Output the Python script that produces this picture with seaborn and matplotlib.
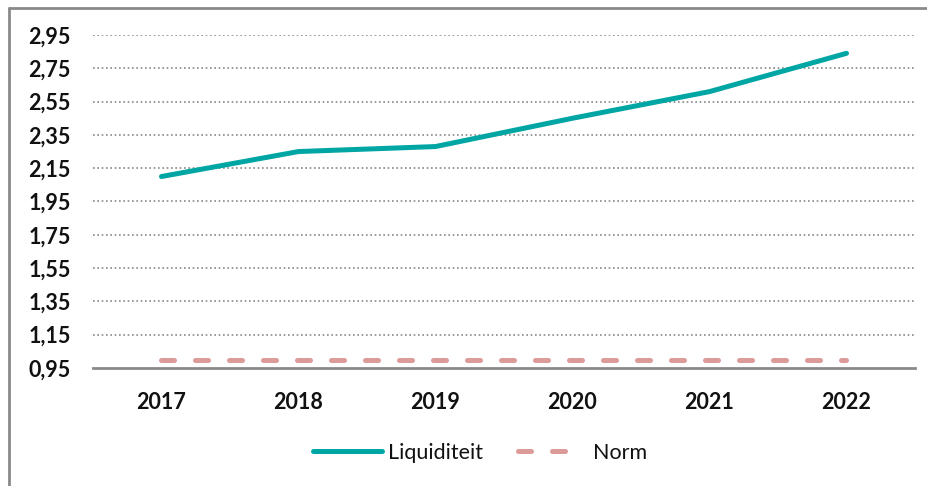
import matplotlib
matplotlib.use("Agg")
import matplotlib.pyplot as plt
import seaborn as sns
import pandas as pd
from matplotlib.lines import Line2D

years = ["2017", "2018", "2019", "2020", "2021", "2022"]
liquiditeit = [2.10, 2.25, 2.28, 2.45, 2.61, 2.84]
norm = [1.0, 1.0, 1.0, 1.0, 1.0, 1.0]
y_ticks = [0.95, 1.15, 1.35, 1.55, 1.75, 1.95, 2.15, 2.35, 2.55, 2.75, 2.95]

sns.set_theme(style="white")
plt.rcParams['font.family'] = ['Lato', 'DejaVu Sans']

df = pd.DataFrame({"Jaar": years, "Liquiditeit": liquiditeit, "Norm": norm})

fig = plt.figure(figsize=(9.28, 4.86), dpi=100)
ax = fig.add_axes([93/928, 1-368/486, (915-93)/928, 333/486])

teal = "#00A6A4"
pink = "#DC9A98"

sns.lineplot(data=df, x="Jaar", y="Liquiditeit", ax=ax, color=teal, lw=3.6,
             solid_capstyle="round", sort=False, legend=False)
sns.lineplot(data=df, x="Jaar", y="Norm", ax=ax, color=pink, lw=3.6,
             dashes=False, sort=False, legend=False)
norm_line = ax.lines[-1]
norm_line.set_linestyle((0, (2.6, 4.2)))
norm_line.set_dash_capstyle("round")

ax.set_xlim(-0.5, 5.5)
ax.set_ylim(0.95, 2.95)
ax.set_yticks(y_ticks)
ax.set_yticklabels([f"{v:.2f}".replace(".", ",") for v in y_ticks],
                   fontsize=15.5, fontweight="bold", color="#111111")
ax.set_xticks(range(len(years)))
ax.set_xticklabels(years, fontsize=15.5, fontweight="bold", color="#111111")
ax.tick_params(axis="y", length=0, pad=16)
ax.tick_params(axis="x", length=0, pad=17)
ax.set_xlabel("")
ax.set_ylabel("")

for v in y_ticks[1:]:
    ax.axhline(v, color="#888888", lw=1.2, ls=(0, (1, 1.6)), zorder=0)

for s in ["top", "right", "left"]:
    ax.spines[s].set_visible(False)
ax.spines["bottom"].set_color("#8a8a8a")
ax.spines["bottom"].set_linewidth(2)

handles = [
    Line2D([0], [0], color=teal, lw=3.6, solid_capstyle="round"),
    Line2D([0], [0], color=pink, lw=3.6, ls=(0, (2.6, 4.2, 2.6, 12)),
           dash_capstyle="round"),
]
leg = fig.legend(handles, ["Liquiditeit", "Norm"], loc="center",
                 bbox_to_anchor=(480/928, 1-453/486),
                 ncol=2, frameon=False, fontsize=15.5, handlelength=3.2,
                 handletextpad=0.3, columnspacing=1.6)
for t in leg.get_texts():
    t.set_color("#111111")

# outer border (top and left)
fig.add_artist(Line2D([9/928, 1], [1-8/486, 1-8/486], transform=fig.transFigure,
                      color="#8a8a8a", lw=2))
fig.add_artist(Line2D([9/928, 9/928], [0, 1-8/486], transform=fig.transFigure,
                      color="#8a8a8a", lw=2))

fig.savefig("out.png", dpi=100)
